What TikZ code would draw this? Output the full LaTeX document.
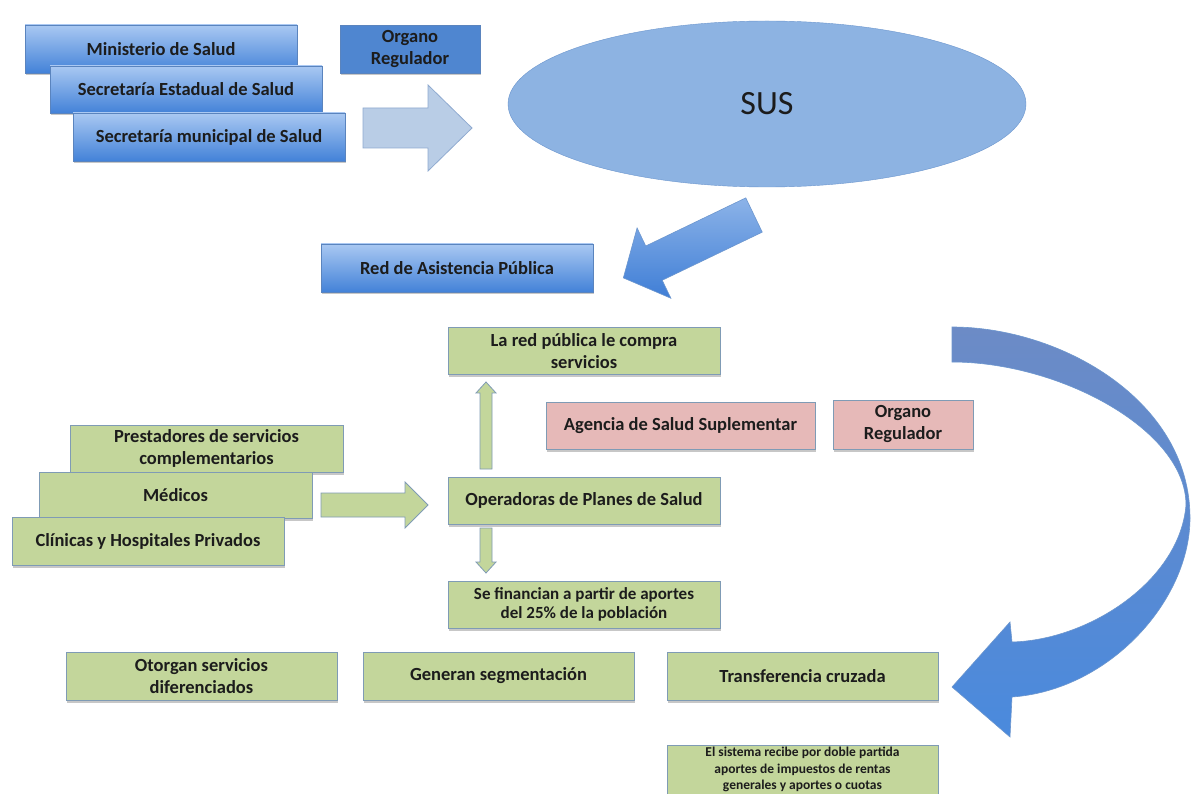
\documentclass[tikz,border=0pt]{standalone}
\usepackage{fontspec}
\setmainfont{Carlito}
\usetikzlibrary{shadows,shapes.geometric}

\definecolor{ink}{HTML}{1C1C1C}
\definecolor{bluetop}{HTML}{A9C8F2}
\definecolor{bluebot}{HTML}{4382D8}
\definecolor{bluerim}{HTML}{5A84BE}
\definecolor{orgblue}{HTML}{4F86D0}
\definecolor{ellfill}{HTML}{8DB3E2}
\definecolor{ellrim}{HTML}{6C96CE}
\definecolor{lightarrow}{HTML}{B9CDE6}
\definecolor{lightrim}{HTML}{8FAAD0}
\definecolor{greenfill}{HTML}{C3D69B}
\definecolor{greyrim}{HTML}{7F9BB5}
\definecolor{pinkfill}{HTML}{E6B9B8}
\definecolor{diagtop}{HTML}{8CB3E8}
\definecolor{diagbot}{HTML}{3F7ED6}
\definecolor{curvetop}{HTML}{6C8BC6}
\definecolor{curvebot}{HTML}{4A8ADD}

\tikzset{
  box/.style={rectangle, inner sep=0pt, align=center, text=ink,
    font=\bfseries\fontsize{18.5}{22}\selectfont,
    drop shadow={shadow xshift=1pt, shadow yshift=-2.5pt, opacity=0.22, fill=black}},
  bluebox/.style={box, draw=bluerim, top color=bluetop, bottom color=bluebot,
    minimum width=272pt, minimum height=48pt},
  orgbox/.style={box, draw=bluerim, fill=orgblue, minimum width=140pt, minimum height=48pt},
  greenbox/.style={box, draw=greyrim, fill=greenfill, minimum width=272pt, minimum height=47pt},
  pinkbox/.style={box, draw=greyrim, fill=pinkfill, minimum height=47pt},
  lightblock/.style={draw=lightrim, fill=lightarrow, line width=0.8pt},
  greenblock/.style={draw=greyrim, fill=greenfill, line width=0.8pt},
  diagblock/.style={draw=ellrim, top color=diagtop, bottom color=diagbot, line width=0.6pt}
}

% style, origin, angle, length, shaft half width, head half width, head length
\newcommand{\blockarrow}[7]{%
  \begin{scope}[shift={#2}, rotate=#3]
    \draw[#1] (0,-#5) -- ({#4-#7},-#5) -- ({#4-#7},-#6) -- (#4,0)
      -- ({#4-#7},#6) -- ({#4-#7},#5) -- (0,#5) -- cycle;
  \end{scope}}

\begin{document}
\begin{tikzpicture}[x=1pt,y=-1pt]
  \clip (0,0) rectangle (1200,794);
  \fill[white] (0,0) rectangle (1200,794);

  %% public side
  \node[bluebox] (minis) at (161,49) {Ministerio de Salud};
  \node[bluebox, minimum height=47pt] (estad) at (186,89.5) {Secretaría Estadual de Salud};
  \node[bluebox] (munic) at (209,137) {Secretaría municipal de Salud};
  \node[orgbox] (orgtop) at (410,49) {Organo\\Regulador};
  \blockarrow{lightblock}{(363,128)}{0}{109}{20}{43}{44}

  \node[ellipse, draw=ellrim, fill=ellfill, minimum width=518pt, minimum height=166pt,
    inner sep=0pt, text=ink, font=\fontsize{34}{38}\selectfont] (sus) at (767,104) {SUS};
  \blockarrow{diagblock}{(754,215)}{205.7}{145}{19}{39}{34}

  \node[bluebox] (red) at (457,268) {Red de Asistencia Pública};

  %% private side
  \node[greenbox] (compra) at (584,351) {La red pública le compra\\servicios};
  \node[pinkbox, minimum width=269pt] (agencia) at (680.5,425.5) {Agencia de Salud Suplementar};
  \node[pinkbox, minimum width=140pt, minimum height=49pt] (orgsup) at (903,424.5) {Organo\\Regulador};

  \node[greenbox, minimum width=273pt] (prest) at (206.5,448.5) {Prestadores de servicios\\complementarios};
  \node[greenbox, minimum width=273pt, minimum height=46pt] (medicos) at (175.5,495.5) {Médicos};
  \node[greenbox, minimum height=48pt] (clinicas) at (148,541) {Clínicas y Hospitales Privados};
  \blockarrow{greenblock}{(321,505)}{0}{107}{12}{23}{23}

  \node[greenbox] (oper) at (584,500.5) {Operadoras de Planes de Salud};
  \blockarrow{greenblock}{(486,469)}{90}{87}{6}{10}{11}
  \blockarrow{greenblock}{(486,528)}{-90}{45}{6}{10}{11}
  \node[greenbox, font=\bfseries\fontsize{17}{19}\selectfont] (financ) at (584,604.5)
    {Se financian a partir de aportes\\del 25\% de la población};

  %% effects
  \node[greenbox, minimum width=271pt, minimum height=48pt] (otorgan) at (201.5,676) {Otorgan servicios\\diferenciados};
  \node[greenbox, minimum width=271pt, minimum height=48pt] (generan) at (498.5,676) {Generan segmentación};
  \node[greenbox, minimum width=271pt, minimum height=48pt] (transf) at (802.5,676) {Transferencia cruzada};
  \node[greenbox, minimum width=271pt, minimum height=52pt] (sistema) at (802.5,771) {};
  \node[font=\bfseries\fontsize{13.5}{16.5}\selectfont, text=ink, align=center, inner sep=0pt]
    (sistematxt) at (802.5,769.5)
    {El sistema recibe por doble partida\\aportes de impuestos de rentas\\generales y aportes o cuotas};

  %% curved arrow back to the transfer box
  \draw[draw=ellrim, top color=curvetop, bottom color=curvebot, line width=0.6pt]
    (952,327) .. controls (1060,327) and (1190,400) .. (1190,518)
    .. controls (1190,600) and (1110,690) .. (1012,697)
    -- (1010,737) -- (952,687) -- (1010,622) -- (1012,642)
    .. controls (1090,640) and (1180,580) .. (1186,505)
    .. controls (1186,430) and (1060,362) .. (952,362) -- cycle;
\end{tikzpicture}
\end{document}
